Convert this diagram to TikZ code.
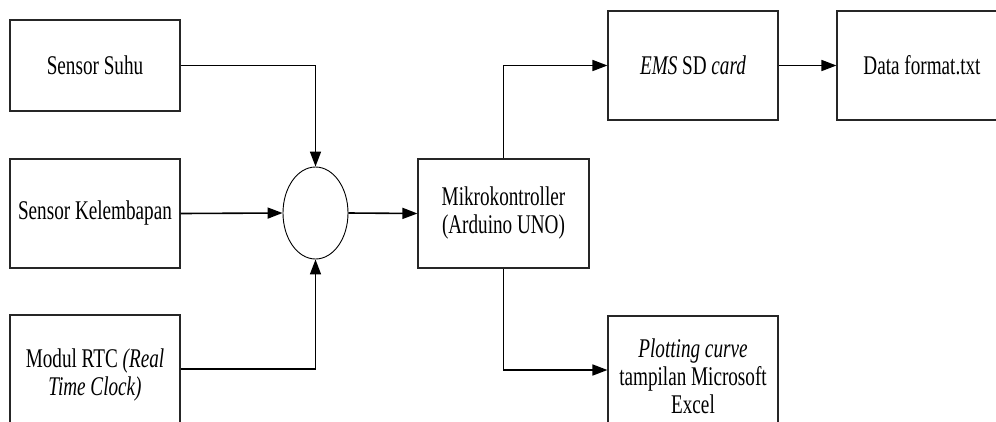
\documentclass[tikz,border=0pt]{standalone}
\usepackage{fontspec}
\setmainfont[FakeStretch=0.71]{Liberation Serif}
\usetikzlibrary{shapes.geometric,arrows.meta}
\begin{document}
\begin{tikzpicture}[x=1pt,y=-1pt,
  box/.style={draw=black!85, line width=1.1pt, inner sep=0pt, minimum width=170pt, minimum height=109pt, align=center, font=\fontsize{27}{28}\selectfont},
  conn/.style={draw=black, line width=1.6pt, -{Triangle[length=15pt,width=11pt]}},
  plain/.style={draw=black, line width=1.6pt}]
\useasboundingbox (0,0) rectangle (996,421);
\clip (0,0) rectangle (996,421);
\fill[white] (0,0) rectangle (996,421);
\node[box, minimum height=91pt] (suhu) at (95,65.5) {Sensor Suhu};
\node[box] (kel) at (95,213.5) {Sensor Kelembapan};
\node[box, minimum height=120pt] (rtc) at (95,375) {Modul RTC \textit{(Real}\\\textit{Time Clock)}};
\node[draw=black, line width=0.9pt, ellipse, minimum width=65pt, minimum height=92pt, inner sep=0pt] (circ) at (315.5,213) {};
\node[box, minimum width=171pt] (mik) at (503.5,213.5) {Mikrokontroller\\(Arduino UNO)};
\node[box] (ems) at (693,65.5) {\textit{EMS} SD \textit{card}};
\node[box] (data) at (922,65.5) {Data format.txt};
\node[box, minimum height=120pt] (plot) at (693,376) {\textit{Plotting curve}\\tampilan Microsoft\\Excel};
\draw[conn] (suhu.east) -| (circ.north);
\draw[conn] (kel.east) -- (circ.west);
\draw[conn] ([yshift=6pt]rtc.east) -| (circ.south);
\draw[conn] (circ.east) -- (mik.west);
\draw[conn] (mik.north) |- (ems.west);
\draw[conn] (ems.east) -- (data.west);
\draw[conn] (mik.south) |- ([yshift=6pt]plot.west);
\end{tikzpicture}
\end{document}
